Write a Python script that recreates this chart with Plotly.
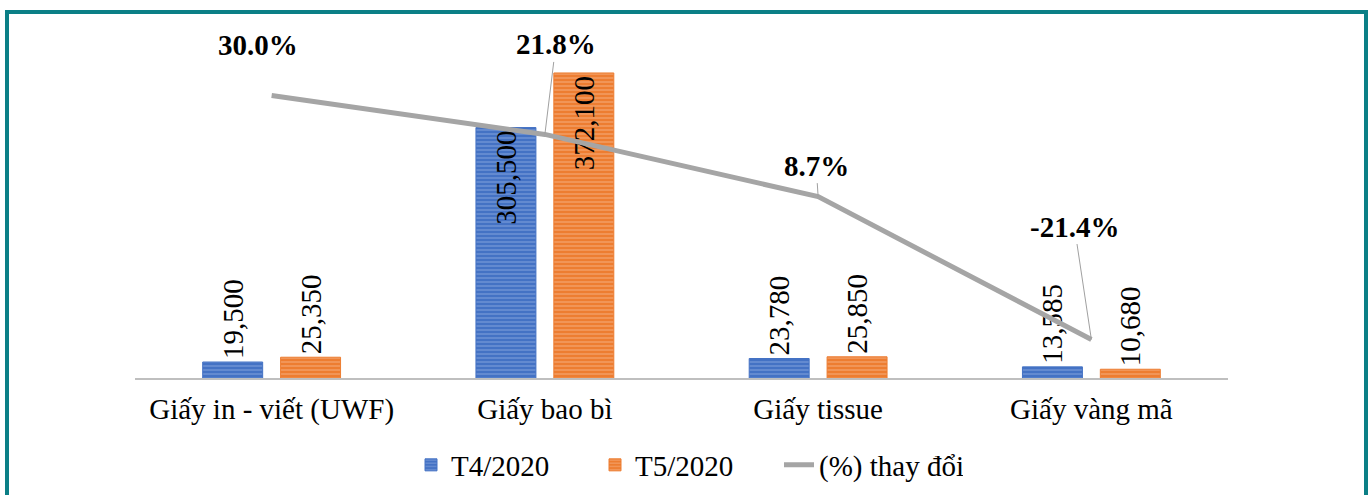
import plotly.graph_objects as go

categories = ["Giấy in - viết (UWF)", "Giấy bao bì", "Giấy tissue", "Giấy vàng mã"]
t4_2020 = [19500, 305500, 23780, 13585]
t5_2020 = [25350, 372100, 25850, 10680]
pct_change = [30.0, 21.8, 8.7, -21.4]
pct_labels = ["30.0%", "21.8%", "8.7%", "-21.4%"]

FONT = "Liberation Serif"
BLUE = "#4472C4"
BLUE_L = "#9db7e6"
ORANGE = "#ED7D31"
ORANGE_L = "#f8c29e"
GRAY = "#A5A5A5"

t4_pos = ["inside" if v > 100000 else "outside" for v in t4_2020]
t5_pos = ["inside" if v > 100000 else "outside" for v in t5_2020]

bar_font = dict(family=FONT, size=29, color="black")

fig = go.Figure()
fig.add_trace(go.Bar(
    x=categories, y=t4_2020, name="T4/2020",
    marker=dict(color=BLUE, line=dict(color=BLUE, width=1),
                pattern=dict(shape="-", bgcolor=BLUE, fgcolor=BLUE_L, size=4, solidity=0.35)),
    texttemplate="%{y:,}", textposition=t4_pos, textangle=-90,
    insidetextanchor="end", constraintext="none", cliponaxis=False,
    textfont=bar_font, insidetextfont=bar_font, outsidetextfont=bar_font,
))
fig.add_trace(go.Bar(
    x=categories, y=t5_2020, name="T5/2020",
    marker=dict(color=ORANGE, line=dict(color=ORANGE, width=1),
                pattern=dict(shape="-", bgcolor=ORANGE, fgcolor=ORANGE_L, size=4, solidity=0.35)),
    texttemplate="%{y:,}", textposition=t5_pos, textangle=-90,
    insidetextanchor="end", constraintext="none", cliponaxis=False,
    textfont=bar_font, insidetextfont=bar_font, outsidetextfont=bar_font,
))
fig.add_trace(go.Scatter(
    x=categories, y=pct_change, name="(%) thay đổi", yaxis="y2",
    mode="lines", line=dict(color=GRAY, width=5), cliponaxis=False,
))

# percentage labels with leader lines
label_offsets = [(-14, -50, False), (11, -90, True), (-2, -31, True), (-17, -113, True)]
for cat, val, lab, (ax, ay, arrow) in zip(categories, pct_change, pct_labels, label_offsets):
    if arrow:
        fig.add_annotation(x=cat, y=val, xref="x", yref="y2", text=f"<b>{lab}</b>",
                           showarrow=True, arrowhead=0, arrowwidth=1, arrowcolor="#a0a0a0",
                           ax=ax, ay=ay, font=dict(family=FONT, size=29, color="black"))
    else:
        fig.add_annotation(x=cat, y=val, xref="x", yref="y2", text=f"<b>{lab}</b>",
                           showarrow=False, xshift=ax, yshift=-ay,
                           font=dict(family=FONT, size=29, color="black"))

# teal frame
fig.add_shape(type="rect", xref="paper", yref="paper",
              x0=(7 - 135) / 1093, x1=(1366 - 135) / 1093,
              y0=(378 - 700) / 358, y1=(378 - 12) / 358,
              line=dict(color="#0b7f86", width=4), fillcolor="rgba(0,0,0,0)", layer="above")

fig.update_layout(
    width=1370, height=495,
    margin=dict(l=135, r=142, t=20, b=117, autoexpand=False),
    paper_bgcolor="white", plot_bgcolor="white",
    barmode="group", bargap=0.43, bargroupgap=0.23,
    font=dict(family=FONT, size=29, color="black"),
    xaxis=dict(showline=True, linecolor="#BFBFBF", linewidth=2, ticks="",
               ticklabelstandoff=4, automargin=False,
               showgrid=False, tickfont=dict(family=FONT, size=29, color="black")),
    yaxis=dict(range=[0, 436700], visible=False, showgrid=False),
    yaxis2=dict(range=[-29.5, 45.9], overlaying="y", side="right", visible=False, showgrid=False),
    legend=dict(orientation="h", x=(411 - 135) / 1093, xanchor="left", y=-0.243, yanchor="middle",
                entrywidth=139, entrywidthmode="pixels",
                font=dict(family=FONT, size=29, color="black"), traceorder="normal"),
    showlegend=True,
)

fig.write_html("out.html", config={"displayModeBar": False},
               post_script="document.body.style.margin='0px';")
